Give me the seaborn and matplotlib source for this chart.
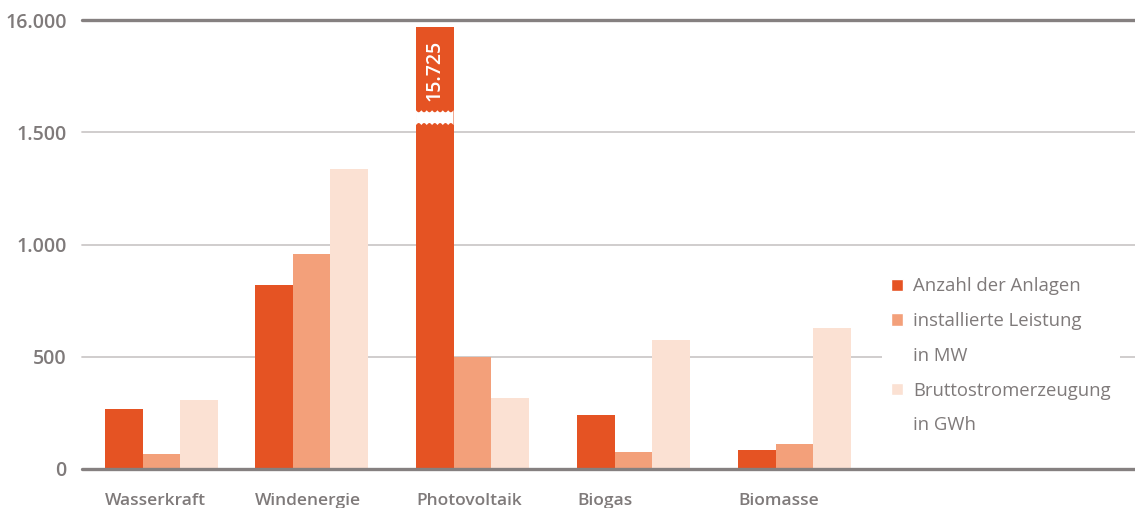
import numpy as np
import pandas as pd
import matplotlib
matplotlib.use("Agg")
import matplotlib.pyplot as plt
from matplotlib.patches import Patch, Polygon
import seaborn as sns

# --- data -----------------------------------------------------------------
kategorien = ["Wasserkraft", "Windenergie", "Photovoltaik", "Biogas", "Biomasse"]
anzahl_anlagen = [267, 819, 15725, 240, 85]
leistung_mw = [67, 957, 500, 76, 111]
erzeugung_gwh = [307, 1336, 316, 574, 628]
reihen = ["Anzahl der Anlagen", "installierte Leistung in MW", "Bruttostromerzeugung in GWh"]
y_ticks = [0, 500, 1000, 1500, 16000]
y_tick_labels = ["0", "500", "1.000", "1.500", "16.000"]
legend_zeilen = ["Anzahl der Anlagen", "installierte Leistung", "in MW",
                 "Bruttostromerzeugung", "in GWh"]

# --- layout / style -------------------------------------------------------
gruppen_pos = [0.0, 0.93, 1.93, 2.93, 3.93]
farben = ["#E55323", "#F3A07A", "#FBE1D3"]
text_grau = "#7f7a7a"
gitter_grau = "#cdc9c9"
linie_dunkel = "#858080"

sns.set_theme(style="white")
plt.rcParams["font.family"] = ["Open Sans", "DejaVu Sans"]

df = pd.DataFrame({
    "pos": gruppen_pos * 3,
    "wert": anzahl_anlagen + leistung_mw + erzeugung_gwh,
    "reihe": [r for r in reihen for _ in kategorien],
})

fig = plt.figure(figsize=(11.35, 5.08), dpi=100)
ax = fig.add_axes([82 / 1135, 1 - 469 / 508, 1053 / 1135, 449 / 508])

# broken value axis: linear up to 1.500, a gap, then a short top segment
skala_werte = [0.0, 1500.0, 12500.0, 16000.0]
skala_pos = [0.0, 1500.0, 1598.0, 2000.0]


def vor(v):
    return np.interp(np.asarray(v, dtype=float), skala_werte, skala_pos)


def zurueck(t):
    return np.interp(np.asarray(t, dtype=float), skala_pos, skala_werte)


ax.set_yscale("function", functions=(vor, zurueck))

sns.barplot(data=df, x="pos", y="wert", hue="reihe", hue_order=reihen,
            palette=farben, native_scale=True, width=0.7514, dodge=True,
            saturation=1, legend=False, ax=ax, zorder=2, linewidth=0)

ax.set_ylim(0, 16000)
ax.set_xlim(-0.494, -0.494 + 1053 / 161)

for v in y_ticks:
    dunkel = v in (0, 16000)
    ax.axhline(v, color=linie_dunkel if dunkel else gitter_grau,
               lw=2.4 if dunkel else 1.3, zorder=3 if v == 0 else 1,
               clip_on=False)

ax.set_yticks(y_ticks)
ax.set_yticklabels(y_tick_labels)
ax.tick_params(axis="y", length=0, pad=11, labelsize=14, labelcolor=text_grau)
for t in ax.get_yticklabels():
    t.set_fontweight("semibold")

gruppen_breite = 0.7514 * 0.93
ax.set_xticks([p - gruppen_breite / 2 for p in gruppen_pos])
ax.set_xticklabels(kategorien, ha="left")
ax.tick_params(axis="x", length=0, pad=17, labelsize=12.5, labelcolor=text_grau)
for t in ax.get_xticklabels():
    t.set_fontweight("semibold")

ax.set_xlabel("")
ax.set_ylabel("")
for s in ax.spines.values():
    s.set_visible(False)

# axis break across the tallest bar, plus its value label
hoechster = max(ax.patches, key=lambda p: p.get_height())
x0, w = hoechster.get_x(), hoechster.get_width()
xs = np.linspace(x0, x0 + w, 120)
welle = np.abs(np.sin(np.pi * 7 * (xs - x0) / w)) * 9
unten = 1532 + welle
oben = 1598 - welle
pts = np.column_stack([np.r_[xs, xs[::-1]],
                       np.r_[zurueck(unten), zurueck(oben[::-1])]])
ax.add_patch(Polygon(pts, closed=True, facecolor="white", edgecolor="none",
                     zorder=4))
wert = max(anzahl_anlagen)
ax.text(x0 + w / 2, float(zurueck(1776)), f"{wert:,}".replace(",", "."),
        rotation=90, ha="center", va="center", color="white",
        fontsize=14, fontweight="semibold", zorder=5)

# legend with continuation lines
handles = [Patch(facecolor=farben[0]), Patch(facecolor=farben[1]),
           Patch(facecolor="none", edgecolor="none"),
           Patch(facecolor=farben[2]),
           Patch(facecolor="none", edgecolor="none")]
leg = ax.legend(handles, legend_zeilen, loc="upper left",
                bbox_to_anchor=(882 / 1135, 1 - 268 / 508),
                bbox_transform=fig.transFigure, borderaxespad=0,
                frameon=True, facecolor="white", edgecolor="none",
                fancybox=False, framealpha=1, fontsize=13.3,
                handlelength=0.65, handleheight=0.65, handletextpad=0.55,
                labelspacing=0.91, borderpad=0.5, labelcolor=text_grau)
for t in leg.get_texts():
    t.set_fontweight("medium")
leg.set_zorder(6)

fig.savefig("out.png", dpi=100)
